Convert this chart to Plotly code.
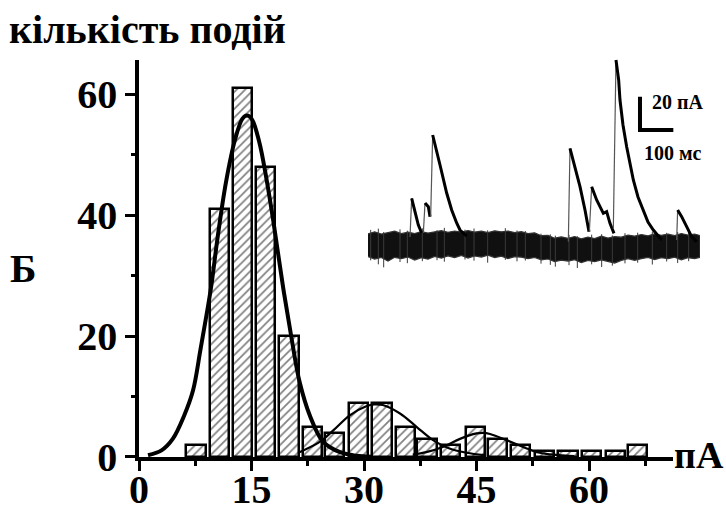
import plotly.graph_objects as go

# ---- amplitude histogram (pA) ----
bin_centers = [7.6, 10.7, 13.8, 16.9, 20.0, 23.1, 26.1, 29.3, 32.4, 35.5,
               38.4, 41.5, 44.9, 47.8, 50.9, 54.1, 57.2, 60.3, 63.5, 66.5]
event_counts = [2, 41, 61, 48, 20, 5, 4, 9, 9, 5,
                3, 2, 5, 3, 2, 1, 1, 1, 1, 2]

# ---- fitted components ----
fit1_x = [1.2, 3.0, 4.5, 6.0, 7.2, 8.2, 9.0, 9.6, 10.5, 11.6, 12.8, 13.8, 14.4,
          15.0, 16.0, 17.0, 18.0, 19.2, 20.4, 21.4, 22.8, 24.5, 26.8, 29.0, 31.0]
fit1_y = [0.3, 1.1, 3.0, 6.8, 11.0, 17.8, 23.5, 28.0, 36.5, 45.5, 52.5, 56.0, 56.5,
          56.0, 52.3, 46.0, 38.3, 28.2, 19.2, 12.5, 6.8, 2.6, 0.8, 0.2, 0.05]
fit2_x = [21.4, 24.1, 25.9, 28.1, 30.3, 31.4, 32.5, 34.8, 37.0, 39.2, 41.4, 43.7, 46.0]
fit2_y = [0.8, 2.5, 4.4, 6.9, 8.4, 8.7, 8.6, 7.2, 5.0, 2.8, 1.4, 0.7, 0.3]
fit3_x = [36.5, 38.3, 40.6, 42.8, 45.0, 45.9, 46.8, 49.0, 51.7, 53.4, 56.0, 58.0]
fit3_y = [0.4, 0.8, 1.7, 3.0, 3.9, 4.0, 3.8, 2.8, 1.4, 0.7, 0.3, 0.15]

x_ticks = [0, 15, 30, 45, 60]
y_ticks = [0, 20, 40, 60]

# ---- inset: overlaid current sweeps (ms, pA) ----
noise_t = [0, 20, 40, 60, 80, 100, 120, 140, 160, 180,
           200, 220, 240, 260, 280, 300, 320, 340, 360, 380,
           400, 420, 440, 460, 480, 500, 520, 540, 560, 580,
           600, 620, 640, 660, 680, 700, 720, 740, 760, 780,
           800, 820, 840, 860, 880, 900, 920, 940, 960, 980, 996]
noise_hi = [8.5, 9.7, 8.4, 9.3, 10.1, 8.6, 9.5, 8.7, 9.9, 9.0,
            9.8, 10.4, 9.4, 10.2, 9.5, 10.5, 9.6, 10.1, 9.2, 10.3,
            9.7, 10.2, 9.3, 9.8, 8.7, 9.1, 7.4, 7.6, 5.9, 6.7,
            5.8, 6.9, 5.5, 6.6, 5.7, 7.1, 6.0, 6.8, 6.5, 7.7,
            7.1, 8.1, 7.3, 8.5, 7.6, 8.3, 7.4, 8.7, 7.8, 8.4, 7.5]
noise_lo = [-5.1, -6.6, -5.7, -7.9, -5.6, -6.4, -5.4, -7.2, -5.8, -6.7,
            -5.0, -6.1, -4.7, -5.8, -4.4, -6.0, -4.8, -5.4, -4.3, -5.7,
            -4.9, -6.3, -5.2, -5.5, -6.4, -5.7, -7.1, -6.6, -8.1, -7.3,
            -7.8, -7.0, -8.7, -7.5, -8.2, -7.1, -7.9, -9.0, -7.4, -6.4,
            -7.4, -6.4, -5.6, -6.9, -5.8, -6.4, -5.5, -7.1, -5.8, -6.4, -5.6]
# isolated noise excursions poking out of the band
spike_t = [8, 31, 47, 96, 118, 163, 207, 229, 291, 318, 359, 412, 447, 472,
           519, 547, 562, 603, 628, 671, 701, 733, 771, 809, 853, 896, 929, 962]
spike_hi = [10.9, 11.6, 9.6, 11.2, 10.4, 11.8, 10.7, 12.1, 11.0, 11.7, 10.6, 11.9, 10.5, 10.2,
            8.6, 8.2, 7.4, 7.9, 7.1, 8.0, 8.3, 7.6, 8.9, 9.2, 9.8, 9.1, 9.6, 9.4]
spike_lo = [-7.4, -9.8, -11.6, -8.4, -9.1, -7.9, -7.3, -8.2, -6.9, -7.6, -8.8, -7.1, -8.0, -7.5,
            -9.4, -10.1, -11.2, -10.3, -12.5, -9.8, -11.4, -10.6, -9.2, -8.8, -9.9, -8.1, -9.0, -7.9]

# each event: first point = onset, second = peak, rest = decay
ev1_t, ev1_i = [126, 131, 141, 151, 161], [6.6, 29.8, 21.0, 13.8, 9.0]
ev2_t, ev2_i = [166, 171, 181, 186], [9.0, 27.0, 24.8, 18.8]
ev3_t, ev3_i = ([188, 194, 206, 216, 236, 251, 266, 276, 296],
                [19.0, 67.8, 58.8, 49.8, 33.0, 22.8, 15.0, 10.8, 7.2])
ev4_t, ev4_i = [601, 606, 621, 636, 651, 663], [3.8, 59.8, 48.8, 36.8, 22.8, 9.8]
ev5_t, ev5_i = ([664, 671, 686, 706, 716, 726, 738],
                [9.8, 36.8, 28.8, 20.8, 21.8, 14.8, 8.8])
ev6_t, ev6_i = ([736, 744, 752, 756, 765, 776, 786, 796, 810, 826, 840, 856, 881],
                [11.4, 112.8, 100.8, 88.8, 73.8, 60.8, 51.0, 40.8, 30.6, 22.8, 15.6, 10.8, 4.8])
ev7_t, ev7_i = [926, 929, 941, 956, 971, 986], [4.8, 22.8, 18.8, 12.8, 6.8, 3.8]
sweeps = [(ev1_t, ev1_i), (ev2_t, ev2_i), (ev3_t, ev3_i), (ev4_t, ev4_i),
          (ev5_t, ev5_i), (ev6_t, ev6_i), (ev7_t, ev7_i)]

bar_t0, bar_i0 = 816, 70.8          # scale bar corner
bar_len_ms, bar_len_pa = 100, 20

SERIF = "Liberation Serif, Times New Roman, serif"

fig = go.Figure()

fig.add_trace(go.Bar(
    x=bin_centers, y=event_counts, width=2.55,
    marker=dict(color="white", line=dict(color="black", width=2.5),
                pattern=dict(shape="/", fgcolor="black", bgcolor="white",
                             size=6, solidity=0.28)),
    xaxis="x", yaxis="y", showlegend=False))

for fx, fy, w in [(fit1_x, fit1_y, 4), (fit2_x, fit2_y, 2.2), (fit3_x, fit3_y, 2.2)]:
    fig.add_trace(go.Scatter(x=fx, y=fy, mode="lines",
                             line=dict(color="black", width=w, shape="spline"),
                             xaxis="x", yaxis="y", showlegend=False))

# baseline noise band of the overlaid sweeps
fig.add_trace(go.Scatter(
    x=noise_t + noise_t[::-1], y=noise_hi + noise_lo[::-1],
    fill="toself", fillcolor="#101010", mode="lines",
    line=dict(color="#333333", width=1.2),
    xaxis="x2", yaxis="y2", showlegend=False))

spike_x, spike_y = [], []
for t, hi, lo in zip(spike_t, spike_hi, spike_lo):
    spike_x += [t, t, None]
    spike_y += [hi, lo, None]
fig.add_trace(go.Scatter(x=spike_x, y=spike_y, mode="lines",
                         line=dict(color="#3a3a3a", width=1),
                         xaxis="x2", yaxis="y2", showlegend=False))

for st, si in sweeps:
    fig.add_trace(go.Scatter(x=st[:2], y=si[:2], mode="lines",
                             line=dict(color="#555555", width=1.2),
                             xaxis="x2", yaxis="y2", showlegend=False))
    fig.add_trace(go.Scatter(x=st[1:], y=si[1:], mode="lines",
                             line=dict(color="black", width=3),
                             xaxis="x2", yaxis="y2", showlegend=False))

# scale bar
fig.add_trace(go.Scatter(
    x=[bar_t0, bar_t0, bar_t0 + bar_len_ms],
    y=[bar_i0 + bar_len_pa, bar_i0, bar_i0],
    mode="lines", line=dict(color="black", width=4),
    xaxis="x2", yaxis="y2", showlegend=False))

bold_font = dict(family=SERIF, size=40, color="black", weight="bold")

fig.update_layout(
    width=726, height=508,
    margin=dict(l=139, r=20, t=40, b=51, autoexpand=False),
    paper_bgcolor="white", plot_bgcolor="rgba(0,0,0,0)",
    bargap=0,
    xaxis=dict(domain=[0, 0.9418], range=[0, 71.2], tickvals=x_ticks,
               showline=True, linewidth=3.5, linecolor="black",
               ticks="outside", ticklen=10, tickwidth=3, tickcolor="black",
               minor=dict(dtick=7.5, tick0=0, ticks="outside", ticklen=5,
                          tickwidth=3, tickcolor="black"),
               tickfont=bold_font, ticklabelstandoff=-16,
               showgrid=False, zeroline=False, automargin=False, anchor="y"),
    yaxis=dict(domain=[0, 0.952], range=[0, 65.7], tickvals=y_ticks,
               showline=True, linewidth=3.5, linecolor="black",
               ticks="outside", ticklen=10, tickwidth=3, tickcolor="black",
               minor=dict(dtick=10, tick0=0, ticks="outside", ticklen=4,
                          tickwidth=3, tickcolor="black"),
               tickfont=bold_font, showgrid=False, zeroline=False,
               automargin=False, anchor="x"),
    xaxis2=dict(domain=[0.4039, 0.9894], range=[0, 996], visible=False,
                anchor="y2"),
    yaxis2=dict(domain=[0.4532, 0.976], range=[-12, 118.8], visible=False,
                anchor="x2"),
    annotations=[
        dict(text="<b>кількість подій</b>", xref="paper", yref="paper",
             x=0.015, y=1.026, xanchor="center", yanchor="middle",
             showarrow=False, font=bold_font),
        dict(text="<b>Б</b>", xref="paper", yref="paper", x=-0.2046, y=0.453,
             xanchor="center", yanchor="middle", showarrow=False,
             font=bold_font),
        dict(text="<b>пА</b>", xref="paper", yref="paper", x=0.987, y=0.005,
             xanchor="center", yanchor="middle", showarrow=False,
             font=dict(family=SERIF, size=38, color="black", weight="bold")),
        dict(text="<b>20 пА</b>", xref="x2", yref="y2", x=846, y=87.6,
             xanchor="left", yanchor="middle", showarrow=False,
             font=dict(family=SERIF, size=20, color="black", weight="bold")),
        dict(text="<b>100 мс</b>", xref="x2", yref="y2", x=822, y=57,
             xanchor="left", yanchor="middle", showarrow=False,
             font=dict(family=SERIF, size=20, color="black", weight="bold")),
    ],
)

fig.write_html("out.html")
